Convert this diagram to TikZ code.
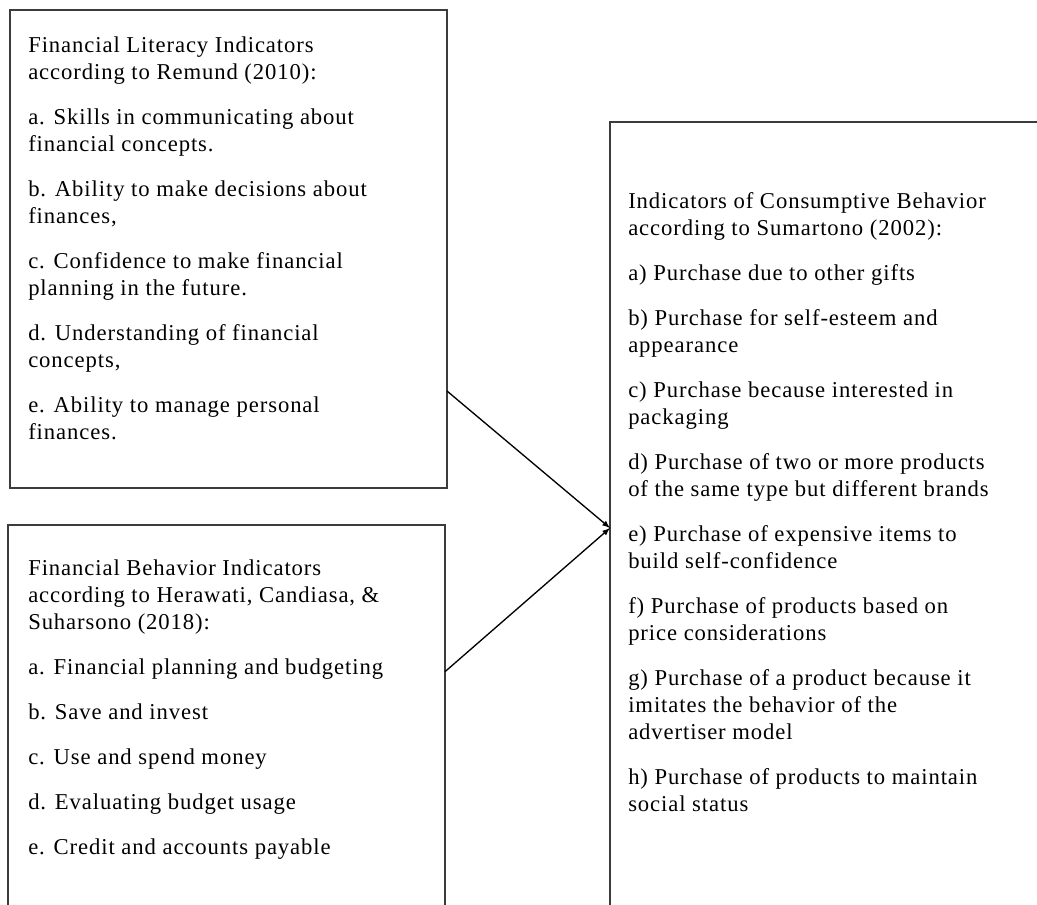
\documentclass[tikz,border=0pt]{standalone}
\usepackage{fontspec}
\setmainfont[LetterSpace=4]{Liberation Serif}
\usetikzlibrary{arrows, positioning}
\definecolor{boxgray}{RGB}{60, 60, 60}

\begin{document}
\begin{tikzpicture}[x=0.75pt, y=-0.75pt,
    box/.style={draw=boxgray, line width=1.1pt, inner sep=0pt, outer sep=0pt, anchor=north west},
    txt/.style={anchor=north west, inner sep=0pt, align=left, font=\fontsize{17pt}{20.25pt}\selectfont},
    link/.style={black, line width=1pt, -latex}]
                    \useasboundingbox (0,0) rectangle (1037,904);
                    \clip (0,0) rectangle (1037,904);
                    
                    \node[box, minimum width=327.75pt, minimum height=358.5pt] (lit) at (10,10) {};
                    \node[box, minimum width=327.75pt, minimum height=300pt] (beh) at (8,525) {};
                    \node[box, minimum width=330pt, minimum height=600pt] (cons) at (610,122) {};
                    
                    % first lines carry a strut, so top = baseline - 0.7 baselineskip
                    \node[txt] (littxt) at (28,33) {\strut Financial Literacy Indicators\\
                        according to Remund (2010):\\[13.5pt]
                        a. Skills in communicating about\\
                        financial concepts.\\[13.5pt]
                        b. Ability to make decisions about\\
                        finances,\\[13.5pt]
                        c. Confidence to make financial\\
                        planning in the future.\\[13.5pt]
                        d. Understanding of financial\\
                        concepts,\\[13.5pt]
                        e. Ability to manage personal\\
                        finances.};
                    \node[txt] (behtxt) at (28,556) {\strut Financial Behavior Indicators\\
                        according to Herawati, Candiasa, \&\\
                        Suharsono (2018):\\[13.5pt]
                        a. Financial planning and budgeting\\[13.5pt]
                        b. Save and invest\\[13.5pt]
                        c. Use and spend money\\[13.5pt]
                        d. Evaluating budget usage\\[13.5pt]
                        e. Credit and accounts payable};
                    \node[txt] (constxt) at (628,189) {\strut Indicators of Consumptive Behavior\\
                        according to Sumartono (2002):\\[13.5pt]
                        a) Purchase due to other gifts\\[13.5pt]
                        b) Purchase for self-esteem and\\
                        appearance\\[13.5pt]
                        c) Purchase because interested in\\
                        packaging\\[13.5pt]
                        d) Purchase of two or more products\\
                        of the same type but different brands\\[13.5pt]
                        e) Purchase of expensive items to\\
                        build self-confidence\\[13.5pt]
                        f) Purchase of products based on\\
                        price considerations\\[13.5pt]
                        g) Purchase of a product because it\\
                        imitates the behavior of the\\
                        advertiser model\\[13.5pt]
                        h) Purchase of products to maintain\\
                        social status};
                    
                    \draw[link] ([yshift=-106.5pt]lit.east) -- ([yshift=-4.5pt]cons.west);
                    \draw[link] ([yshift=40pt]beh.east) -- ([yshift=-4.5pt]cons.west);
                \end{tikzpicture}
\end{document}
